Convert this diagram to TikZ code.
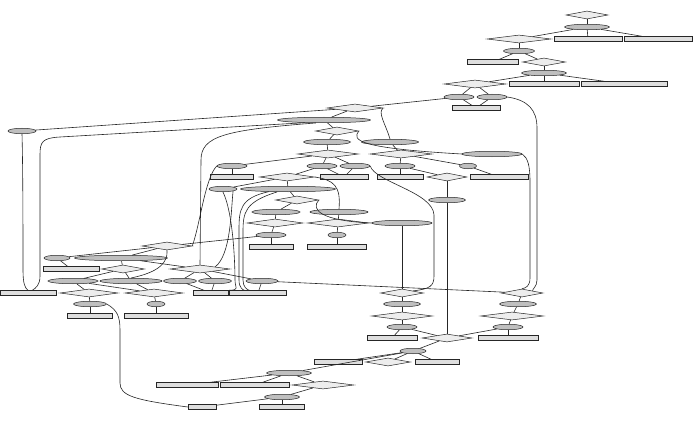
\documentclass[tikz,border=0pt]{standalone}
\usetikzlibrary{shapes.geometric}
\newcommand{\mkE}[4]{\node[ell,minimum width=#4] (#1) at (#2,#3) {};}
\newcommand{\mkD}[4]{\node[dia,minimum width=#4] (#1) at (#2,#3) {};}
\newcommand{\mkR}[4]{\node[box,minimum width=#4] (#1) at (#2,#3) {};}
\begin{document}
\begin{tikzpicture}[x=1pt,y=-1pt,
  ell/.style={ellipse,draw=black!85,fill=black!25,line width=0.5pt,inner sep=0pt,minimum height=5.5pt},
  box/.style={rectangle,draw=black!85,fill=black!13,line width=0.5pt,inner sep=0pt,minimum height=5pt},
  dia/.style={diamond,draw=black!85,fill=black!7,line width=0.5pt,inner sep=0pt,minimum height=8pt},
  conn/.style={draw=black!85,line width=0.6pt}]
\fill[white] (0,0) rectangle (693,425);
\useasboundingbox (0,0) rectangle (693,425);
% ellipses
\mkE{E1}{587}{27}{45}
\mkE{E2}{519}{51}{31}
\mkE{E3}{544}{73}{45}
\mkE{E4}{459}{97}{30}
\mkE{E5}{492}{97}{30}
\mkE{L1}{22}{131}{28}
\mkE{E6}{324}{120}{93}
\mkE{E7}{390}{142}{57}
\mkE{E8}{327}{142}{47}
\mkE{E9}{492}{154}{60}
\mkE{E10}{322}{166}{30}
\mkE{E11}{355}{166}{30}
\mkE{E12}{232}{166}{30}
\mkE{E13}{400}{166}{30}
\mkE{E14}{468}{166}{17}
\mkE{E15}{223}{189}{28}
\mkE{E16}{288}{189}{95}
\mkE{E17}{276}{212}{48}
\mkE{E18}{339}{212}{58}
\mkE{E19}{402}{223}{60}
\mkE{E20}{271}{235}{30}
\mkE{E21}{337}{235}{18}
\mkE{E22}{57}{258}{26}
\mkE{E23}{121}{258}{93}
\mkE{E24}{73}{281}{50}
\mkE{E25}{131}{281}{62}
\mkE{E26}{180}{281}{33}
\mkE{E27}{215}{281}{33}
\mkE{E28}{262}{281}{32}
\mkE{E29}{90}{304}{33}
\mkE{E30}{156}{304}{18}
\mkE{E31}{402}{304}{37}
\mkE{E32}{402}{327}{30}
\mkE{E33}{518}{304}{37}
\mkE{E34}{508}{327}{30}
\mkE{E35}{413}{351}{26}
\mkE{E36}{289}{373}{45}
\mkE{E37}{282}{397}{35}
\mkE{E38}{447}{200}{37}
% diamonds
\mkD{D1}{587}{15}{42}
\mkD{D2}{519}{39}{64}
\mkD{D3}{544}{62}{43}
\mkD{D4}{475}{84}{62}
\mkD{D5}{355}{108}{56}
\mkD{D6}{337}{131}{43}
\mkD{D7}{328}{154}{61}
\mkD{D8}{401}{154}{62}
\mkD{D9}{447}{177}{40}
\mkD{D10}{287}{177}{55}
\mkD{D11}{297}{200}{43}
\mkD{D12}{275}{223}{56}
\mkD{D13}{338}{223}{61}
\mkD{D14}{167}{246}{50}
\mkD{D15}{200}{269}{60}
\mkD{D16}{123}{269}{43}
\mkD{D17}{89}{293}{58}
\mkD{D18}{154}{293}{58}
\mkD{D19}{402}{293}{43}
\mkD{D20}{522}{293}{42}
\mkD{D21}{447}{338}{50}
\mkD{D22}{402}{316}{61}
\mkD{D23}{512}{316}{63}
\mkD{D24}{388}{362}{45}
\mkD{D25}{323}{385}{62}
% boxes
\mkR{R1}{588}{39}{68}
\mkR{R2}{658}{39}{68}
\mkR{R3}{493}{62}{51}
\mkR{R4}{544}{84}{70}
\mkR{R5}{624}{84}{86}
\mkR{R6}{476}{108}{48}
\mkR{R7}{344}{177}{48}
\mkR{R8}{400}{177}{46}
\mkR{R9}{499}{177}{58}
\mkR{R10}{232}{177}{43}
\mkR{R11}{271}{247}{44}
\mkR{R12}{337}{247}{59}
\mkR{R13}{258}{293}{57}
\mkR{R14}{71}{269}{56}
\mkR{R15}{28}{293}{56}
\mkR{R16}{211}{293}{35}
\mkR{R17}{90}{316}{45}
\mkR{R18}{156}{316}{64}
\mkR{R19}{392}{338}{50}
\mkR{R20}{508}{338}{60}
\mkR{R21}{338}{362}{48}
\mkR{R22}{437}{362}{44}
\mkR{R23}{187}{385}{62}
\mkR{R24}{255}{385}{69}
\mkR{R25}{202}{407}{28}
\mkR{R26}{282}{407}{45}
% straight connectors
\begin{scope}[on background layer/.try]
\foreach \a/\b in {D1/E1,E1/R1,E1/R2,E1/D2,D2/E2,E2/R3,E2/D3,D3/E3,E3/R4,E3/R5,E3/D4,
  D4/E4,D4/E5,E4/R6,E5/R6,E4/D5,D5/L1,D5/E6,E6/D6,D6/E8,E8/D7,E7/D8,D7/E10,D7/E11,D7/E12,
  D8/E13,D8/E14,E10/R7,E11/R7,E13/R8,E13/D9,E14/R9,E10/D10,E12/R10,D9/E38,E38/D21,
  D10/E15,D10/E16,E16/D11,D11/E17,E17/D12,E18/D13,D12/E20,D13/E21,E20/R11,E21/R12,E20/D14,
  E19/D19,D14/E22,D14/E23,E22/R14,E23/D16,E23/D15,D16/E24,D16/E25,D15/E26,D15/E27,D15/E28,
  E26/R16,E27/R16,E28/R13,E28/D20,E24/D17,E24/D18,E25/D18,D17/E29,D18/E30,E29/R17,E30/R18,
  D19/E31,E31/D22,D22/E32,E32/R19,E32/D21,D20/E33,E33/D23,D23/E34,E34/R20,E34/D21,
  D21/E35,E35/R21,E35/D24,E35/R22,E35/E36,E36/R23,E36/R24,E36/D25,D25/E37,E37/R25,E37/R26}
  {\path[conn] (\a) -- (\b);}
\end{scope}
% curved connectors
\path[conn] (L1.south) .. controls (23,170) and (23,240) .. (23,270) .. controls (23,284) and (25,288) .. (R15.north);
\path[conn] (E6.188) -- (60,137) .. controls (42,138) and (40,142) .. (40,155) -- (40,276) .. controls (40,285) and (36,288) .. (32,290.5);
\path[conn] (E6.200) .. controls (225,130) and (201,136) .. (201,160) -- (D15.north);
\path[conn] (D5.east) .. controls (377,112) and (386,125) .. (E7.north);
\path[conn] (D6.east) .. controls (352,140) and (356,148) .. (E9.west);
\path[conn] (E9.east) .. controls (528,158) and (530,166) .. (530,182) -- (530,278) .. controls (530,286) and (526,288) .. (D20.north);
\path[conn] (E5.east) .. controls (528,100) and (537,110) .. (537,128) -- (537,280) .. controls (537,287) and (532,289) .. (D20.north east);
\path[conn] (E11.east) .. controls (375,182) and (433,192) .. (434,215) -- (434,276) .. controls (434,286) and (430,289) .. (D19.north east);
\path[conn] (D11.east) .. controls (310,210) and (322,221) .. (E19.west);
\path[conn] (D10.east) .. controls (334,180) and (341,186) .. (E18.north);
\path[conn] (E12.west) .. controls (205,178) and (200,225) .. (D14.east);
\path[conn] (D14.south) .. controls (168,262) and (160,272) .. (E25.north);
\path[conn] (E15.south east) .. controls (231,210) and (231,255) .. (D15.north east);
\path[conn] (E15.south) .. controls (234,215) and (235,270) .. (235,280) .. controls (235,288) and (240,290) .. (R13.north west);
\path[conn] (E16.188) .. controls (240,198) and (239,210) .. (239,230) -- (239,280) .. controls (239,288) and (243,290) .. (245,290.5);
\path[conn] (E16.195) .. controls (245,202) and (243,212) .. (243,232) -- (243,280) .. controls (243,287) and (247,290) .. (250,290.5);
\path[conn] (E29.east) .. controls (117,310) and (120,316) .. (120,330) -- (120,383) .. controls (120,396) and (135,400) .. (R25.west);
\end{tikzpicture}
\end{document}
